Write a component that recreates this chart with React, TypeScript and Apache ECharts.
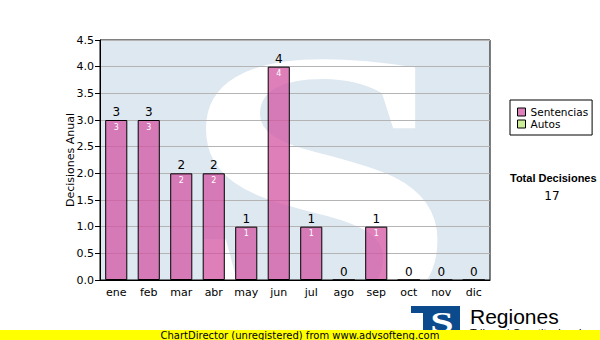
import React, { useEffect, useRef } from "react";
import * as echarts from "echarts";

const months = ["ene", "feb", "mar", "abr", "may", "jun", "jul", "ago", "sep", "oct", "nov", "dic"];
const sentencias = [3, 3, 2, 2, 1, 4, 1, 0, 1, 0, 0, 0];
const autos = [0, 0, 0, 0, 0, 0, 0, 0, 0, 0, 0, 0];
const yTicks = { min: 0, max: 4.5, interval: 0.5 };
const seriesNames = ["Sentencias", "Autos"];
const axisName = "Decisiones Anual";
const totalTitle = "Total Decisiones";
const footerText = "ChartDirector (unregistered) from www.advsofteng.com";

export default function App() {
  const ref = useRef<HTMLDivElement>(null);
  useEffect(() => {
    if (!ref.current) return;
    const chart = echarts.init(ref.current, null, { renderer: "svg" });
    const totals = sentencias.map((v, i) => v + autos[i]);
    const grand = totals.reduce((a, b) => a + b, 0);
    const font = "DejaVu Sans";
    chart.setOption({
      animation: false,
      backgroundColor: "#ffffff",
      grid: {
        left: 100, top: 40, right: 110, bottom: 60,
        show: true, borderColor: "#000", borderWidth: 1, backgroundColor: "transparent",
      },
      legend: {
        orient: "vertical", left: 510, top: 100,
        padding: [6, 4, 5, 7], itemGap: 0, itemWidth: 8, itemHeight: 8,
        borderColor: "#000", borderWidth: 1, backgroundColor: "#fff", borderRadius: 0,
        icon: "rect",
        textStyle: { fontFamily: font, fontSize: 10.5, color: "#000", lineHeight: 12 },
        itemStyle: { borderColor: "#000", borderWidth: 1 },
        data: [
          { name: seriesNames[0], itemStyle: { color: "#dd80bb", borderColor: "#000", borderWidth: 1 } },
          { name: seriesNames[1], itemStyle: { color: "#ccee99", borderColor: "#000", borderWidth: 1 } },
        ],
      },
      xAxis: {
        type: "category", data: months,
        axisLine: { lineStyle: { color: "#000", width: 1 } },
        axisTick: { alignWithLabel: true, length: 5, lineStyle: { color: "#000" } },
        axisLabel: { fontFamily: font, fontSize: 11, color: "#000", margin: 7 },
        splitLine: { show: false },
      },
      yAxis: {
        type: "value", min: yTicks.min, max: yTicks.max, interval: yTicks.interval,
        name: axisName, nameLocation: "middle", nameRotate: 90, nameGap: 24, nameMoveOverlap: false,
        nameTextStyle: { fontFamily: font, fontSize: 11, color: "#000" },
        axisLine: { show: true, lineStyle: { color: "#000", width: 1 } },
        axisTick: { show: true, length: 5, lineStyle: { color: "#000" } },
        axisLabel: { fontFamily: font, fontSize: 11, color: "#000", margin: 6, formatter: (v: number) => v.toFixed(1) },
        splitLine: { show: true, lineStyle: { color: "#b4b4b4", width: 1 } },
      },
      graphic: [
        { type: "rect", z: -10, shape: { x: 100, y: 40, width: 390, height: 240 }, style: { fill: "#dee8f1" } },
        {
          type: "text", z: -9, x: 318, y: 186, scaleX: 1.3, scaleY: 1,
          style: { text: "S", font: 'bold 390px "Liberation Serif"', fill: "#ffffff", align: "center", verticalAlign: "middle" },
        },
        { type: "text", left: 510, top: 172, style: { text: totalTitle, font: 'bold 11px "Liberation Sans"', fill: "#000", width: 86, align: "center" } },
        { type: "text", x: 552, y: 196, style: { text: String(grand), font: '12px "DejaVu Sans"', fill: "#000", align: "center", verticalAlign: "middle" } },
        { type: "rect", z: 5, shape: { x: 411, y: 306, width: 49, height: 30 }, style: { fill: "#0c4a8e" } },
        { type: "rect", z: 6, shape: { x: 411, y: 313, width: 12, height: 23 }, style: { fill: "#ffffff" } },
        { type: "text", z: 7, x: 442, y: 322, scaleX: 1.4, style: { text: "S", font: 'bold 30px "Liberation Serif"', fill: "#fff", align: "center", verticalAlign: "middle" } },
        { type: "text", z: 5, x: 470, y: 316, style: { text: "Regiones", font: '21px "Liberation Sans"', fill: "#000", verticalAlign: "middle" } },
        { type: "text", z: 5, x: 470, y: 327, style: { text: "Tribunal Constitucional", font: '11px "Liberation Sans"', fill: "#000", verticalAlign: "top" } },
        { type: "rect", z: 10, shape: { x: 0, y: 330, width: 600, height: 10 }, style: { fill: "#ffff00" } },
        { type: "text", z: 11, x: 300, y: 335, style: { text: footerText, font: '10px "DejaVu Sans"', fill: "#000", align: "center", verticalAlign: "middle" } },
      ],
      series: [
        {
          name: seriesNames[0], type: "bar", stack: "total", data: sentencias, barWidth: "68%",
          itemStyle: { color: "rgba(211,82,162,0.74)", borderColor: "#000", borderWidth: 1 },
          label: {
            show: true, position: "insideTop", distance: 3, color: "#fff", fontFamily: font, fontSize: 8,
            formatter: (p: any) => (p.value > 0 ? String(p.value) : ""),
          },
        },
        {
          name: seriesNames[1], type: "bar", stack: "total", data: autos, barWidth: "68%",
          itemStyle: { color: "#ccee99", borderWidth: 0 },
          label: {
            show: true, position: "top", distance: 2, color: "#000", fontFamily: font, fontSize: 12,
            formatter: (p: any) => String(totals[p.dataIndex]),
          },
        },
      ],
    });
    return () => chart.dispose();
  }, []);
  return <div ref={ref} style={{ position: "fixed", left: 0, top: 0, width: 600, height: 340 }} />;
}
